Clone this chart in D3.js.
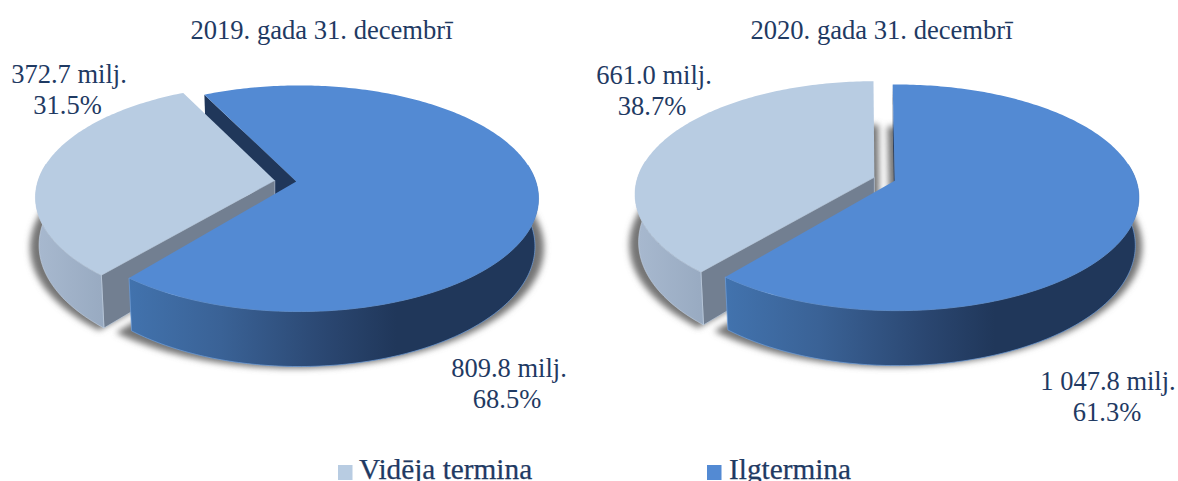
<!DOCTYPE html>
<html><head><meta charset="utf-8">
<script src="https://cdn.jsdelivr.net/npm/d3@7"></script>
<style>html,body{margin:0;padding:0;background:#fff;overflow:hidden}svg{display:block}text{font-family:"Liberation Serif",serif}</style>
</head><body><svg id="c" width="1178" height="481"></svg>
<script>
// ---- data
const categories = ["Vidēja termina", "Ilgtermina"];
const titles = ["2019. gada 31. decembrī", "2020. gada 31. decembrī"];
const values2019 = [372.7, 809.8];
const values2020 = [661.0, 1047.8];
const amountLabels2019 = ["372.7 milj.", "809.8 milj."];
const amountLabels2020 = ["661.0 milj.", "1 047.8 milj."];
const shareLabels2019 = ["31.5%", "68.5%"];
const shareLabels2020 = ["38.7%", "61.3%"];
// ---- styles and layout
const topColors = ["#b8cce2", "#538ad3"];
const wallColors = ["#727f91", "#20375a"];
const textColor = "#1f3a63";
const firstSliceAngle = 220.5 * Math.PI / 180;
const longSliceTurn = -1 * Math.PI / 180;
const K = 0.15, R = 239, S = 110.5, H = 46.75, BOTTOM = 0.985, EXPLODE = 10.8;

const svg = d3.select("#c");
const defs = svg.append("defs");
defs.append("filter").attr("id","blur").attr("x","-10%").attr("y","-10%").attr("width","120%").attr("height","120%")
  .append("feGaussianBlur").attr("stdDeviation",3.2);

const line = d3.line().curve(d3.curveLinear);
const pie = d3.pie().sort(null).startAngle(firstSliceAngle).endAngle(firstSliceAngle + 2*Math.PI);

// c = {ax, ay, scale, shift}
function project(c, a, r, plane, sx){
  const u = r*Math.sin(a), v = -r*Math.cos(a), w = 1 - K*v;
  const x0 = c.ax + c.shift*r;
  return plane === "top"
    ? [x0 + R*c.scale*u/w, c.ay + S*v/w]
    : [x0 + R*c.scale*BOTTOM*(sx||1)*u/w, c.ay + (S*v + H)/w];
}
function rim(c, a0, a1, plane, sx){
  const n = Math.max(2, Math.ceil(Math.abs(a1-a0)*60));
  return d3.range(n+1).map(i => project(c, a0+(a1-a0)*i/n, 1, plane, sx));
}

function chart(idx, cx, cy, longShift, longScale, values, amountLabels, shareLabels, title, titleX, labelPos){
  const g = svg.append("g");
  const arcs = pie(values).map((d,i) => i === 1
    ? {startAngle: d.startAngle + longSliceTurn, endAngle: d.endAngle + longSliceTurn}
    : {startAngle: d.startAngle, endAngle: d.endAngle});
  const offset = (d, k) => {
    const m = (d.startAngle + d.endAngle)/2;
    return [cx + k*EXPLODE*Math.sin(m), cy - k*EXPLODE*Math.cos(m)*0.46];
  };
  const solids = arcs.map((d,i) => {
    const [ax, ay] = offset(d, 1);
    return {ax, ay, scale: i === 0 ? 0.99 : longScale, shift: i === 1 ? longShift : 0};
  });

  // soft shadow: the lower plane of each slice, blurred, slightly pulled together
  const sh = g.append("g").attr("filter","url(#blur)").attr("transform","translate(0,2)");
  arcs.forEach((d,i) => {
    const [ax, ay] = offset(d, 0.5);
    const c = {ax, ay, scale: 1, shift: solids[i].shift};
    const pts = [project(c,0,0,"bottom"), ...rim(c,d.startAngle,d.endAngle,"bottom",1.05)];
    sh.append("path").attr("d", line(pts)+"Z").attr("fill","#747474");
  });

  // gradients for the visible sides
  const gid = "side"+idx, bx = solids[1].ax;
  const lg = defs.append("linearGradient").attr("id",gid).attr("gradientUnits","userSpaceOnUse")
    .attr("x1",bx-170).attr("x2",bx+100).attr("y1",0).attr("y2",0);
  [[0,"#4273ae"],[.35,"#3a6296"],[.75,"#2a4670"],[1,"#20375a"]].forEach(s=>lg.append("stop").attr("offset",s[0]).attr("stop-color",s[1]));
  const gid2 = "sideG"+idx, gx = solids[0].ax;
  const lg2 = defs.append("linearGradient").attr("id",gid2).attr("gradientUnits","userSpaceOnUse")
    .attr("x1",gx-240).attr("x2",gx-170).attr("y1",0).attr("y2",0);
  [[0,"#a8b9cf"],[1,"#98aac1"]].forEach(s=>lg2.append("stop").attr("offset",s[0]).attr("stop-color",s[1]));

  const wallOf = (c,a) => [[c.ax,c.ay],project(c,a,1,"top"),project(c,a,1,"bottom"),[c.ax,c.ay+H]];

  // cut wall of the long slice, behind the short one
  g.append("path").attr("d",line(wallOf(solids[1],arcs[1].startAngle))+"Z").attr("fill",wallColors[1]);

  // short slice: wall at its starting edge, outer side, top
  {
    const c = solids[0], d = arcs[0], a = d.startAngle;
    g.append("path").attr("d",line(wallOf(c,a))+"Z").attr("fill",wallColors[0]).attr("stroke","#c4d3e6").attr("stroke-width",.6);
    const end = Math.min(d.endAngle, 3*Math.PI/2+0.15);
    const band = [...rim(c,a,end,"top"), ...rim(c,a,end,"bottom").reverse()];
    g.append("path").attr("d",line(band)+"Z").attr("fill","url(#"+gid2+")").attr("stroke","#c4d3e6").attr("stroke-width",.6);
    const top = [[c.ax,c.ay], ...rim(c,d.startAngle,d.endAngle,"top")];
    g.append("path").attr("d",line(top)+"Z").attr("fill",topColors[0]);
  }
  // long slice: outer side, top
  {
    const c = solids[1], d = arcs[1];
    const from = Math.PI/2 - 0.15 + 2*Math.PI, e = d.endAngle;
    const band = [...rim(c,from,e,"top"), ...rim(c,from,e,"bottom").reverse()];
    g.append("path").attr("d",line(band)+"Z").attr("fill","url(#"+gid+")").attr("stroke","#6f9fdc").attr("stroke-width",.7);
    const top = [[c.ax,c.ay], ...rim(c,d.startAngle,d.endAngle,"top")];
    g.append("path").attr("d",line(top)+"Z").attr("fill",topColors[1]);
  }

  // texts
  svg.append("text").attr("x",titleX).attr("y",39).attr("text-anchor","middle")
    .attr("font-size",26.6).attr("fill",textColor).text(title);
  labelPos.forEach((p,i)=>{
    svg.append("text").attr("x",p[0]).attr("y",p[1]).attr("text-anchor","middle").attr("font-size",26.5).attr("fill",textColor).text(amountLabels[i]);
    svg.append("text").attr("x",p[2]).attr("y",p[1]+31).attr("text-anchor","middle").attr("font-size",26.5).attr("fill",textColor).text(shareLabels[i]);
  });
}

chart(0, 285.5, 181, 3, 0.99, values2019, amountLabels2019, shareLabels2019, titles[0], 321.5, [[69,83,67.5],[509,377,507]]);
chart(1, 884.5, 179, 2.5, 1, values2020, amountLabels2020, shareLabels2020, titles[1], 881.5, [[654,84,652],[1108,390,1107]]);

// legend
const legendX = [338, 707], legendTextX = [359, 729];
categories.forEach((c,i)=>{
  svg.append("rect").attr("x",legendX[i]).attr("y",465).attr("width",14.5).attr("height",15).attr("fill",topColors[i]);
  svg.append("text").attr("x",legendTextX[i]).attr("y",479).attr("font-size",29.3).attr("fill",textColor)
    .attr("stroke",textColor).attr("stroke-width",.25).text(c);
});
</script></body></html>
